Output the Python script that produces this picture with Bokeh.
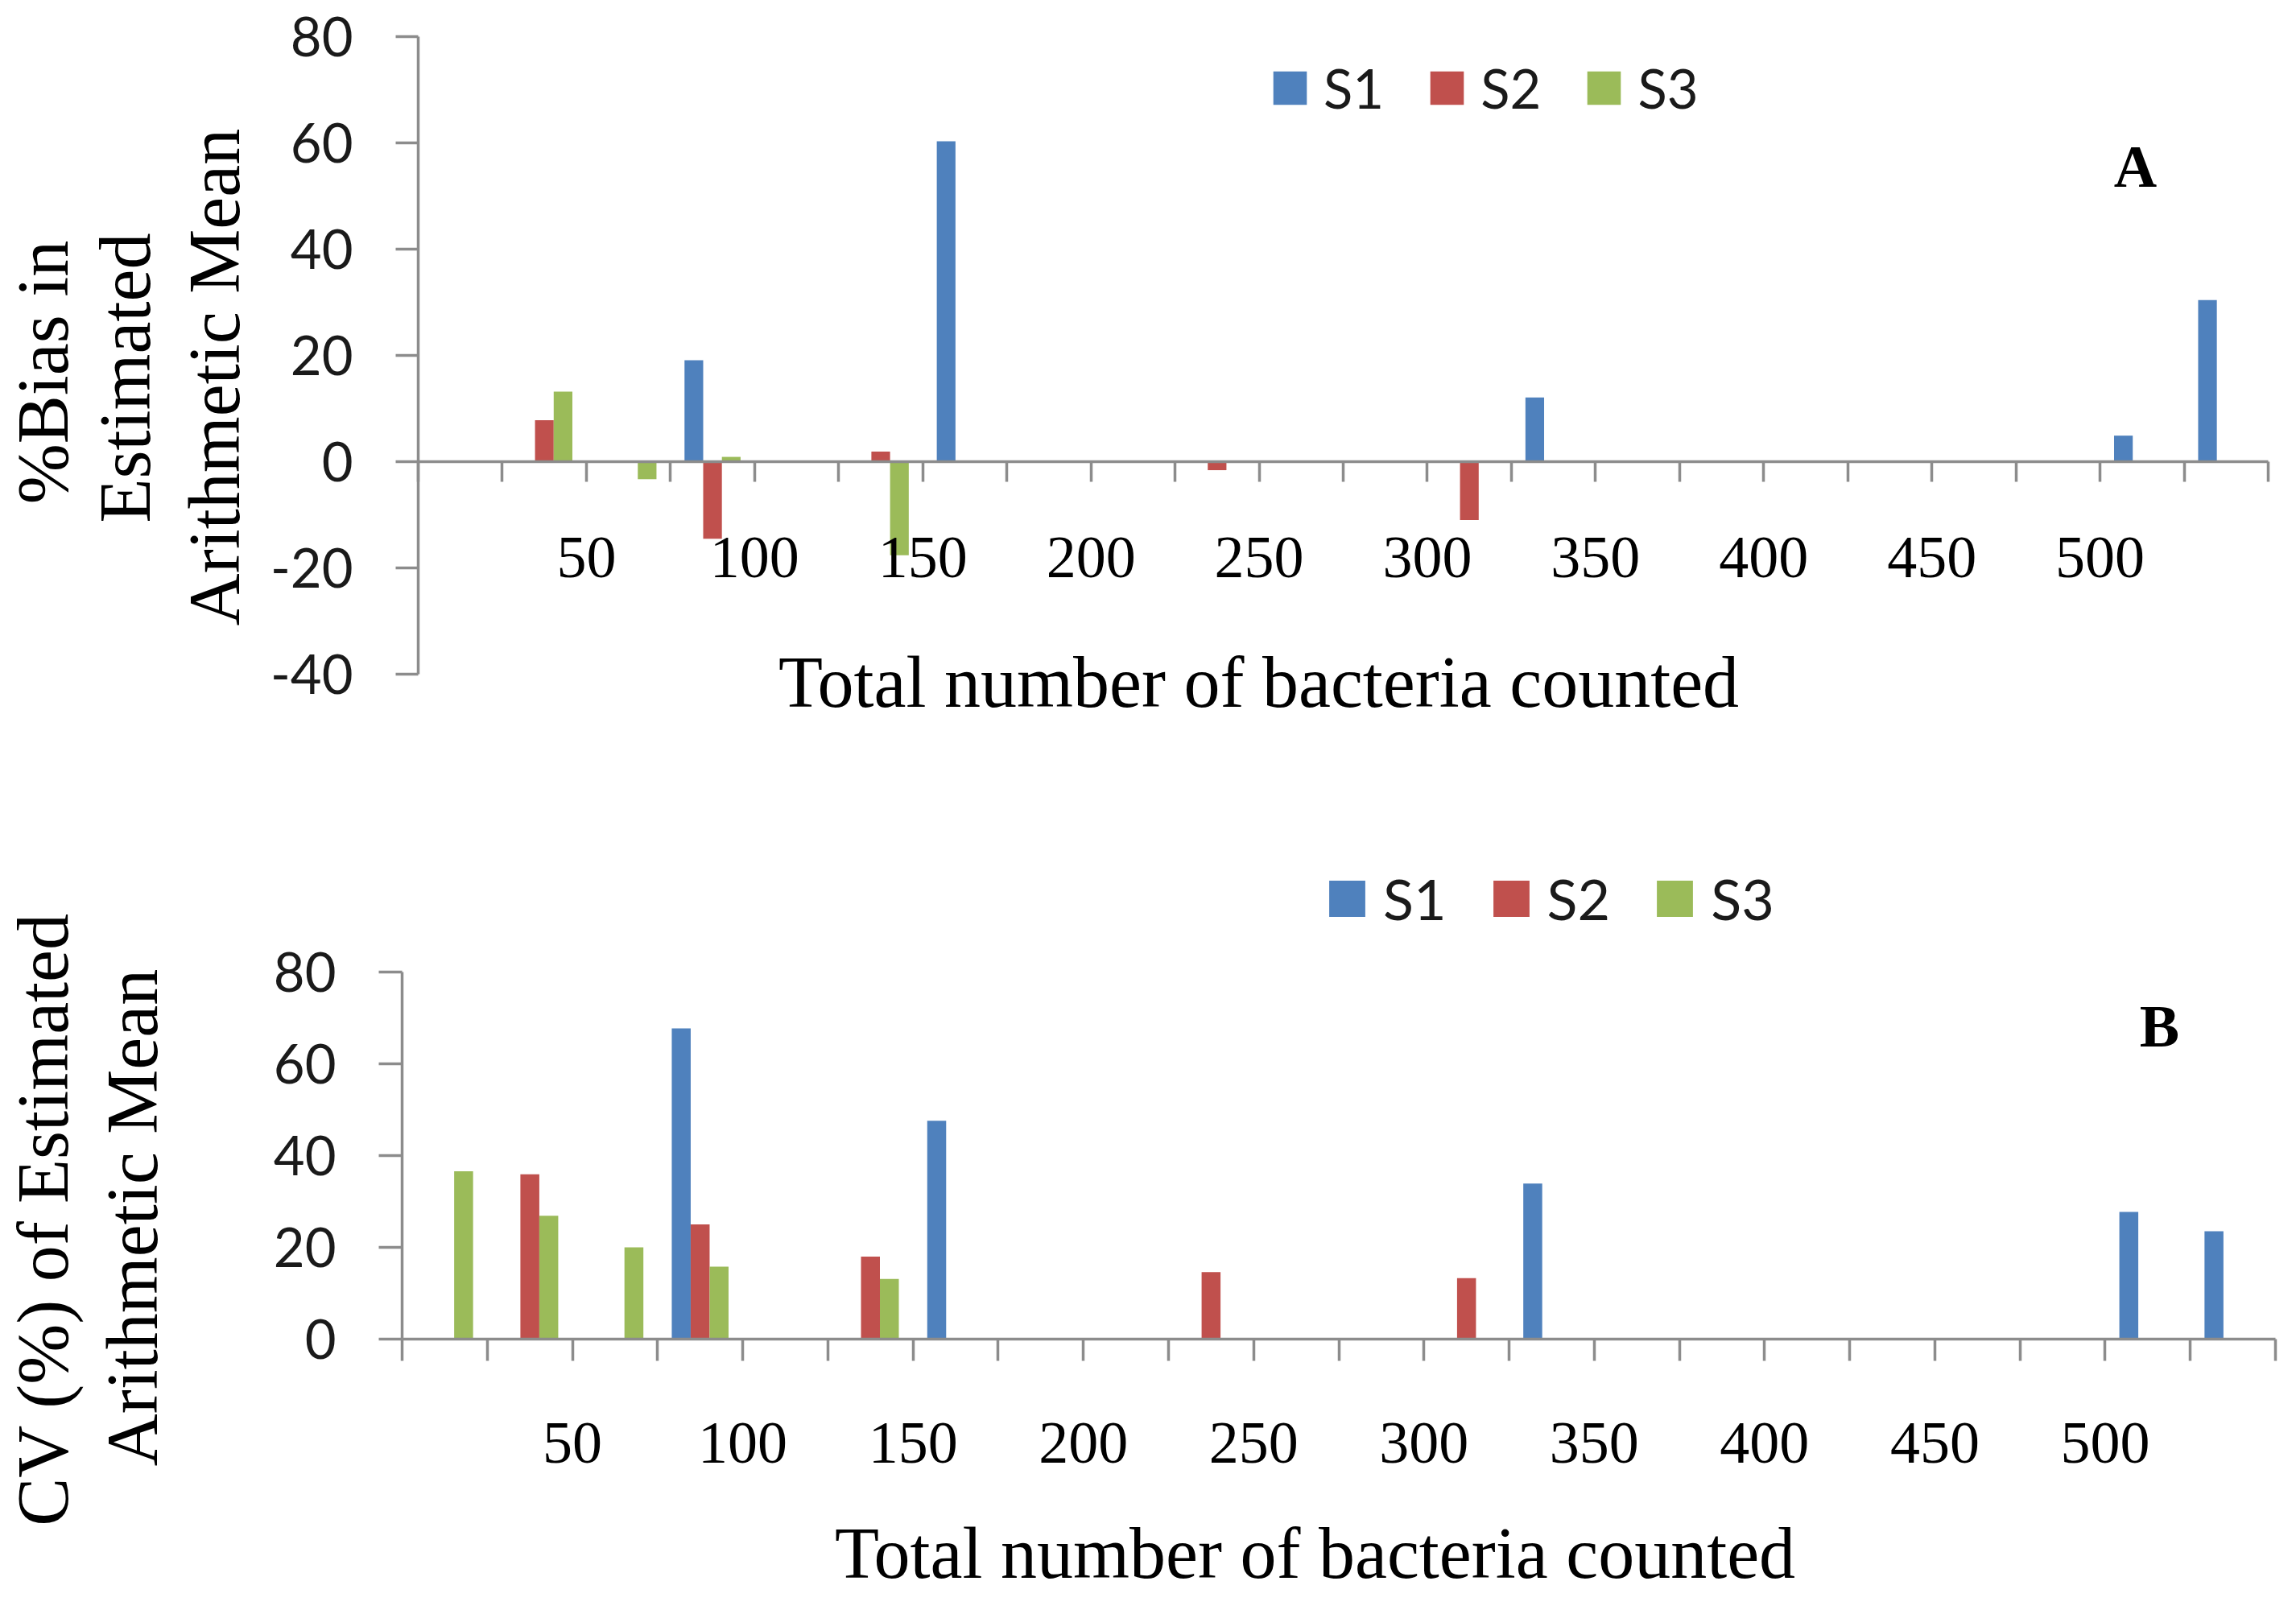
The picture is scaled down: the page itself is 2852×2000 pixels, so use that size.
import math
import numpy as np
from bokeh.plotting import figure
from bokeh.models import Range1d, FixedTicker, Label, Legend, LegendItem, ColumnDataSource
from bokeh.layouts import column
from bokeh.embed import file_html
from bokeh.resources import INLINE

# ---------------- data ----------------
n_categories = 22                       # category bins along the x axis
category_index = list(range(22))
series_names = ["S1", "S2", "S3"]
series_colors = ["#4F81BD", "#C0504D", "#9BBB59"]

# Panel A : %Bias in estimated arithmetic mean
bias_s1 = [0, 0, 0, 19.1, 0, 0, 60.3, 0, 0, 0, 0, 0, 0, 12.1, 0, 0, 0, 0, 0, 0, 4.9, 30.4]
bias_s2 = [0, 7.8, 0, -14.5, 0, 1.9, 0, 0, 0, -1.6, 0, 0, -11.0, 0, 0, 0, 0, 0, 0, 0, 0, 0]
bias_s3 = [0, 13.2, -3.3, 0.9, 0, -17.6, 0, 0, 0, 0, 0, 0, 0, 0, 0, 0, 0, 0, 0, 0, 0, 0]

# Panel B : CV (%) of estimated arithmetic mean
cv_s1 = [0, 0, 0, 67.7, 0, 0, 47.6, 0, 0, 0, 0, 0, 0, 33.9, 0, 0, 0, 0, 0, 0, 27.7, 23.5]
cv_s2 = [0, 35.9, 0, 25.0, 0, 18.0, 0, 0, 0, 14.6, 0, 0, 13.3, 0, 0, 0, 0, 0, 0, 0, 0, 0]
cv_s3 = [36.6, 26.9, 20.0, 15.8, 0, 13.1, 0, 0, 0, 0, 0, 0, 0, 0, 0, 0, 0, 0, 0, 0, 0, 0]

# x tick labels, placed on category boundaries
tick_boundaries = [2, 4, 6, 8, 10, 12, 14, 16, 18, 20]
tick_labels = ["50", "100", "150", "200", "250", "300", "350", "400", "450", "500"]

bias_yticks = [-40, -20, 0, 20, 40, 60, 80]
cv_yticks = [0, 20, 40, 60, 80]

# ---------------- style ----------------
SERIF = "Liberation Serif"
SANS = "Lato"
AXIS_COLOR = "#8C8C8C"
BAR_W = 1 / 4.5
PAGE_W = 2836
MARGIN = 8
TITLE_SIZE = "90px"


def make_panel(values, y_lo, y_hi, yticks, fig_top, height, plot_px,
               legend_px, legend_font, glyph, standoff, spacing,
               xtitle_px, ytitle_lines, letter, letter_px,
               xlabel_standoff, ytick_out, xtick_out):
    # plot_px: page pixels of (x=0, x=22, y=y_hi, y=y_lo)
    px0, px1, py_hi, py_lo = plot_px
    sx = (px1 - px0) / n_categories
    sy = (py_lo - py_hi) / (y_hi - y_lo)
    xr = Range1d((MARGIN - px0) / sx, n_categories + (MARGIN + PAGE_W - px1) / sx)
    yr = Range1d(y_lo - (fig_top + height - py_lo) / sy, y_hi + (py_hi - fig_top) / sy)

    def scr(px, py):
        return px - MARGIN, fig_top + height - py

    p = figure(width=PAGE_W, height=height, x_range=xr, y_range=yr,
               output_backend="svg", toolbar_location=None,
               min_border=0, min_border_left=0, min_border_right=0,
               min_border_top=0, min_border_bottom=0)
    p.outline_line_color = None
    p.xgrid.visible = False
    p.ygrid.visible = False
    p.background_fill_color = "white"
    p.border_fill_color = "white"

    centers = np.array(category_index) + 0.5
    renderers = []
    for k, (vals, col) in enumerate(zip(values, series_colors)):
        src = ColumnDataSource(dict(x=centers + (k - 1) * BAR_W, top=vals))
        r = p.vbar(x="x", top="top", bottom=0, width=BAR_W, source=src,
                   fill_color=col, line_color=None)
        renderers.append(r)

    # y axis
    ya = p.yaxis[0]
    ya.fixed_location = 0
    ya.bounds = (y_lo, y_hi)
    ya.ticker = FixedTicker(ticks=[float(t) for t in yticks])
    ya.major_label_overrides = {float(t): str(t) for t in yticks}
    ya.axis_line_color = AXIS_COLOR
    ya.axis_line_width = 3.5
    ya.major_tick_line_color = AXIS_COLOR
    ya.major_tick_line_width = 3.5
    ya.major_tick_out = ytick_out
    ya.major_tick_in = 0
    ya.minor_tick_line_color = None
    ya.major_label_text_font = SANS
    ya.major_label_text_font_size = "67px"
    ya.major_label_text_color = "#1a1a1a"
    ya.major_label_standoff = 53

    # x axis
    xa = p.xaxis[0]
    xa.fixed_location = 0
    xa.bounds = (0, n_categories)
    xa.ticker = FixedTicker(ticks=[float(i) for i in range(n_categories + 1)])
    overrides = {float(i): "" for i in range(n_categories + 1)}
    for b, lab in zip(tick_boundaries, tick_labels):
        overrides[float(b)] = lab
    xa.major_label_overrides = overrides
    xa.axis_line_color = AXIS_COLOR
    xa.axis_line_width = 3.5
    xa.major_tick_line_color = AXIS_COLOR
    xa.major_tick_line_width = 3.5
    xa.major_tick_out = xtick_out
    xa.major_tick_in = 0
    xa.minor_tick_line_color = None
    xa.major_label_text_font = SERIF
    xa.major_label_text_font_size = "74px"
    xa.major_label_text_color = "black"
    xa.major_label_standoff = xlabel_standoff

    # legend (location = bottom-left corner of legend box)
    items = [LegendItem(label=n, renderers=[r]) for n, r in zip(series_names, renderers)]
    leg = Legend(items=items, location=scr(*legend_px), orientation="horizontal",
                 glyph_width=glyph, glyph_height=glyph, label_standoff=standoff,
                 spacing=spacing, padding=0, margin=0,
                 border_line_color=None, background_fill_alpha=0,
                 label_text_font=SANS, label_text_font_size=legend_font,
                 label_text_color="#1a1a1a")
    p.add_layout(leg, "center")

    # axis titles
    tx, ty = scr(*xtitle_px)
    p.add_layout(Label(x=tx, y=ty, x_units="screen", y_units="screen",
                       text="Total number of bacteria counted", text_font=SERIF,
                       text_font_size=TITLE_SIZE, text_align="center", text_baseline="middle",
                       text_color="black"))
    for txt, lp in ytitle_lines:
        lx, ly = scr(*lp)
        p.add_layout(Label(x=lx, y=ly, x_units="screen", y_units="screen", text=txt,
                           angle=math.pi / 2, text_font=SERIF, text_font_size=TITLE_SIZE,
                           text_align="center", text_baseline="middle", text_color="black"))
    ax_, ay_ = scr(*letter_px)
    p.add_layout(Label(x=ax_, y=ay_, x_units="screen", y_units="screen",
                       text=letter, text_font=SERIF, text_font_size="74px",
                       text_font_style="bold", text_align="center",
                       text_baseline="middle", text_color="black"))
    return p


pA = make_panel([bias_s1, bias_s2, bias_s3], -40, 80, bias_yticks,
                8, 1000, (527, 2825, 53, 845),
                (1584, 157), "67px", 52, 16, 52,
                (1571, 855),
                [("%Bias in", (61, 470)), ("Estimated", (163, 477)),
                 ("Arithmetic Mean", (274, 476))],
                "A", (2660, 214), 69, 28, 25)

pB = make_panel([cv_s1, cv_s2, cv_s3], 0, 80, cv_yticks,
                1008, 984, (507, 2834, 1215, 1671),
                (1653, 1166), "70px", 56, 17, 52,
                (1641, 1937),
                [("CV (%) of Estimated", (61, 1522)), ("Arithmetic Mean", (172, 1520))],
                "B", (2690, 1282), 77, 29, 27)

layout = column(pA, pB, spacing=0)
open("out.html", "w").write(file_html(layout, INLINE))
